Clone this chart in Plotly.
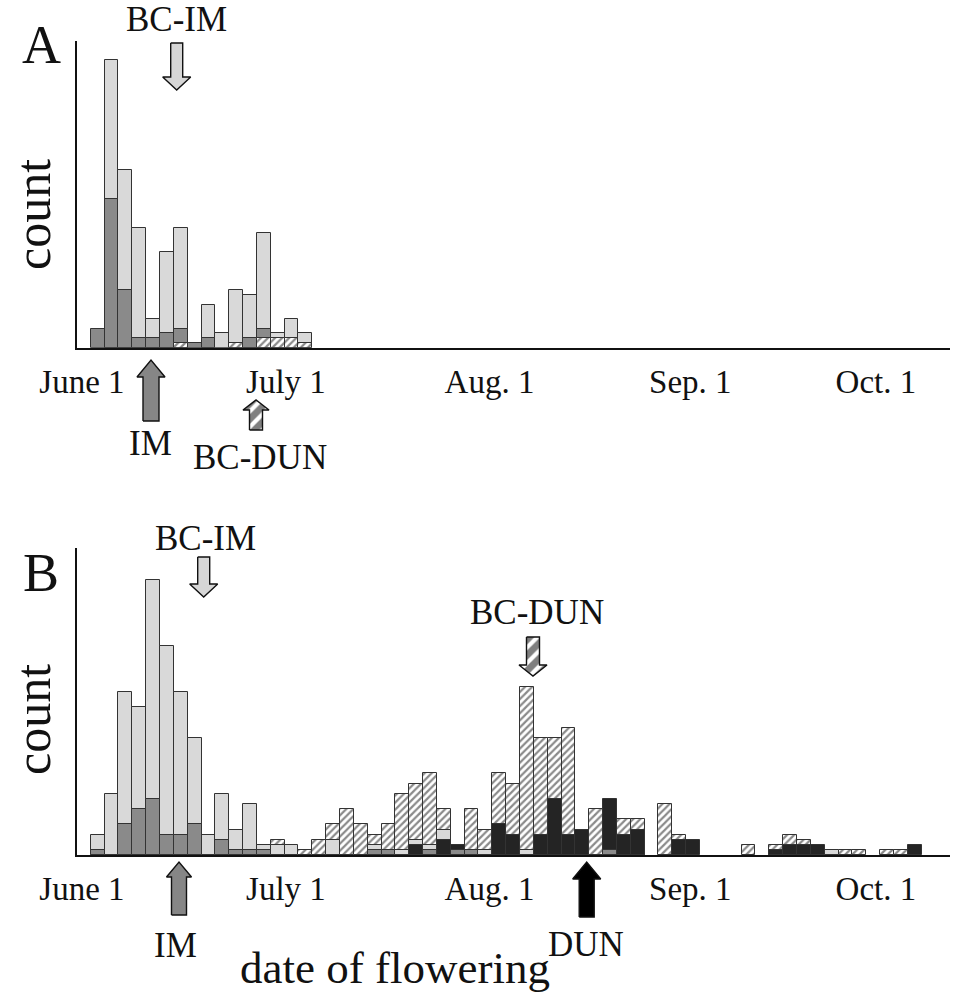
import plotly.graph_objects as go

W, H = 953, 999

# ---------------- data (counts per ~2-day bin, bin 0 = first bin after June 1) -------------
bins_A = list(range(16))
bcim_A  = [0, 60, 37, 25, 6, 20, 25, 0, 9, 3, 12, 11, 24, 3, 6, 3]
im_A    = [4, 31, 12, 2, 2, 3, 4, 1, 2, 0, 0, 2, 4, 0, 0, 0]
bcdun_A = [0, 0, 0, 0, 0, 0, 1, 0, 0, 0, 1, 0, 2, 2, 2, 1]
dun_A   = [0] * 16

bins_B = list(range(60))
bcim_B  = [4, 12, 32, 29, 54, 41, 32, 23, 4, 12, 5, 10, 2, 2, 2, 0, 0, 3, 0, 0,
           2, 0, 1, 3, 2, 5, 0, 0, 1, 0, 0, 1, 0, 0, 0, 0, 0, 0, 0, 0,
           0, 0, 0, 0, 0, 0, 0, 0, 0, 0, 0, 0, 0, 1, 0, 0, 0, 0, 0, 0]
im_B    = [1, 0, 6, 9, 11, 4, 4, 6, 0, 3, 1, 1, 1, 0, 0, 0, 0, 0, 0, 0,
           1, 1, 0, 0, 1, 0, 1, 1, 0, 0, 0, 0, 0, 0, 0, 0, 0, 1, 0, 0,
           0, 0, 0, 0, 0, 0, 0, 0, 0, 0, 0, 0, 0, 0, 0, 0, 0, 0, 0, 0]
bcdun_B = [0, 0, 0, 0, 0, 0, 0, 0, 0, 0, 0, 0, 0, 3, 0, 1, 3, 6, 9, 6,
           4, 6, 12, 14, 16, 9, 0, 9, 5, 16, 14, 33, 23, 23, 25, 0, 9, 0, 7, 7,
           0, 10, 4, 0, 0, 0, 0, 2, 0, 2, 4, 3, 0, 0, 1, 1, 0, 1, 1, 0]
dun_B   = [0, 0, 0, 0, 0, 0, 0, 0, 0, 0, 0, 0, 0, 0, 0, 0, 0, 0, 0, 0,
           0, 0, 0, 2, 0, 3, 2, 0, 0, 6, 4, 0, 4, 11, 4, 5, 0, 11, 4, 5,
           0, 0, 3, 3, 0, 0, 0, 0, 0, 1, 2, 2, 2, 0, 0, 0, 0, 0, 0, 2]

tick_pos = [-1.13, 13.6, 28.3, 42.8, 56.2]
tick_text = ["June 1", "July 1", "Aug. 1", "Sep. 1", "Oct. 1"]

# ---------------- styles ----------------
STYLE = {
    "BC-IM":  dict(color="#d9d9d9", pattern=None),
    "IM":     dict(color="#8a8a8a", pattern=None),
    "BC-DUN": dict(color="#ffffff", pattern=dict(shape="/", fgcolor="#151515", bgcolor="#ffffff",
                                                  size=5, solidity=0.45)),
    "DUN":    dict(color="#242424", pattern=None),
}
SERIF = "Liberation Serif, Times New Roman, serif"

fig = go.Figure()


def add_panel(bins, series, xa, ya):
    # overlay per bin: tallest drawn first (back), shorter ones drawn in front
    n = len(bins)
    rank = {name: [None] * n for name, _ in series}
    for k in range(n):
        items = [(vals[k], name) for name, vals in series if vals[k] > 0]
        items.sort(key=lambda t: -t[0])
        for j, (v, name) in enumerate(items):
            rank[name][k] = j
    for j in range(len(series)):
        for name, vals in series:
            ys = [vals[k] if rank[name][k] == j else None for k in range(n)]
            if all(v is None for v in ys):
                continue
            st = STYLE[name]
            marker = dict(color=st["color"], line=dict(color="#333333", width=1))
            if st["pattern"]:
                marker["pattern"] = st["pattern"]
            fig.add_trace(go.Bar(x=bins, y=ys, width=1, xaxis=xa, yaxis=ya, marker=marker,
                                 name=name, showlegend=False, hoverinfo="skip"))


add_panel(bins_A, [("BC-IM", bcim_A), ("IM", im_A), ("BC-DUN", bcdun_A), ("DUN", dun_A)], "x", "y")
add_panel(bins_B, [("BC-IM", bcim_B), ("IM", im_B), ("BC-DUN", bcdun_B), ("DUN", dun_B)], "x2", "y2")


# ---------------- block arrows (pixel overlay axis) ----------------
def arrow(cx, tail, tip, sw, hw, hl, fill, pattern=None):
    d = 1 if tip > tail else -1
    base = tip - d * hl
    xs = [cx - sw, cx - sw, cx - hw, cx, cx + hw, cx + sw, cx + sw, cx - sw]
    ys = [tail, base, base, tip, base, base, tail, tail]
    kw = dict(x=xs, y=ys, mode="lines", fill="toself", fillcolor=fill,
              line=dict(color="#111111", width=1.4), xaxis="x3", yaxis="y3",
              showlegend=False, hoverinfo="skip")
    if pattern:
        kw["fillpattern"] = pattern
    fig.add_trace(go.Scatter(**kw))


hatch = dict(shape="/", fgcolor="#000000", bgcolor="#ffffff", size=11, solidity=0.62)
# panel A
arrow(176.7, 43, 90, 6, 14, 13, "#d6d6d6")
arrow(151, 421, 360, 8, 14, 17, "#868686")
arrow(256, 430, 400, 6.5, 13, 10, "#ffffff", hatch)
# panel B
arrow(203.7, 557, 597, 6, 14, 13, "#d6d6d6")
arrow(179, 915, 862, 7.5, 12.5, 15, "#868686")
arrow(533, 637, 676, 6.5, 14, 11, "#ffffff", hatch)
arrow(586.7, 917, 862, 7.5, 14, 17, "#000000")

# ---------------- layout ----------------
xdom = [77 / W, 950 / W]
yA = [1 - 347.7 / H, 1 - 41 / H]
yB = [1 - 855 / H, 1 - 548 / H]
xrange = [-1.49, 61.55]

xcommon = dict(domain=xdom, range=xrange, showline=True, linecolor="#111", linewidth=1.5,
               showgrid=False, zeroline=False, ticks="", tickmode="array",
               tickvals=tick_pos, ticktext=tick_text, ticklabelstandoff=4,
               tickfont=dict(family=SERIF, size=33, color="#111"), fixedrange=True,
               automargin=False)
ycommon = dict(showline=True, linecolor="#111", linewidth=1.5, showgrid=False,
               zeroline=False, showticklabels=False, ticks="", fixedrange=True,
               automargin=False)

fig.update_layout(
    width=W, height=H, margin=dict(l=0, r=0, t=0, b=0, pad=0, autoexpand=False),
    paper_bgcolor="white", plot_bgcolor="rgba(0,0,0,0)",
    barmode="overlay", bargap=0,
    xaxis=dict(**xcommon, anchor="y"),
    yaxis=dict(**ycommon, domain=yA, range=[0, 63.9], anchor="x"),
    xaxis2=dict(**xcommon, anchor="y2"),
    yaxis2=dict(**ycommon, domain=yB, range=[0, 60.2], anchor="x2"),
    xaxis3=dict(domain=[0, 1], range=[0, W], visible=False, anchor="y3",
                fixedrange=True, automargin=False),
    yaxis3=dict(domain=[0, 1], range=[H, 0], visible=False, anchor="x3",
                fixedrange=True, automargin=False),
    showlegend=False,
)


def label(text, x, y, size, angle=0):
    fig.add_annotation(text=text, x=x, y=y, xref="x3", yref="y3", showarrow=False,
                       xanchor="center", yanchor="middle", textangle=angle,
                       font=dict(family=SERIF, size=size, color="#111"))


label("A", 41, 45, 54)
label("B", 41, 573, 54)
label("count", 33, 215, 50, -90)
label("count", 33, 720, 50, -90)
label("BC-IM", 176, 19, 35)
label("IM", 150, 443, 35)
label("BC-DUN", 260, 457, 35)
label("BC-IM", 205, 538, 35)
label("BC-DUN", 537, 612, 35)
label("IM", 175, 945, 35)
label("DUN", 586, 944, 35)
label("date of flowering", 395, 968, 45)

fig.write_html("out.html")
